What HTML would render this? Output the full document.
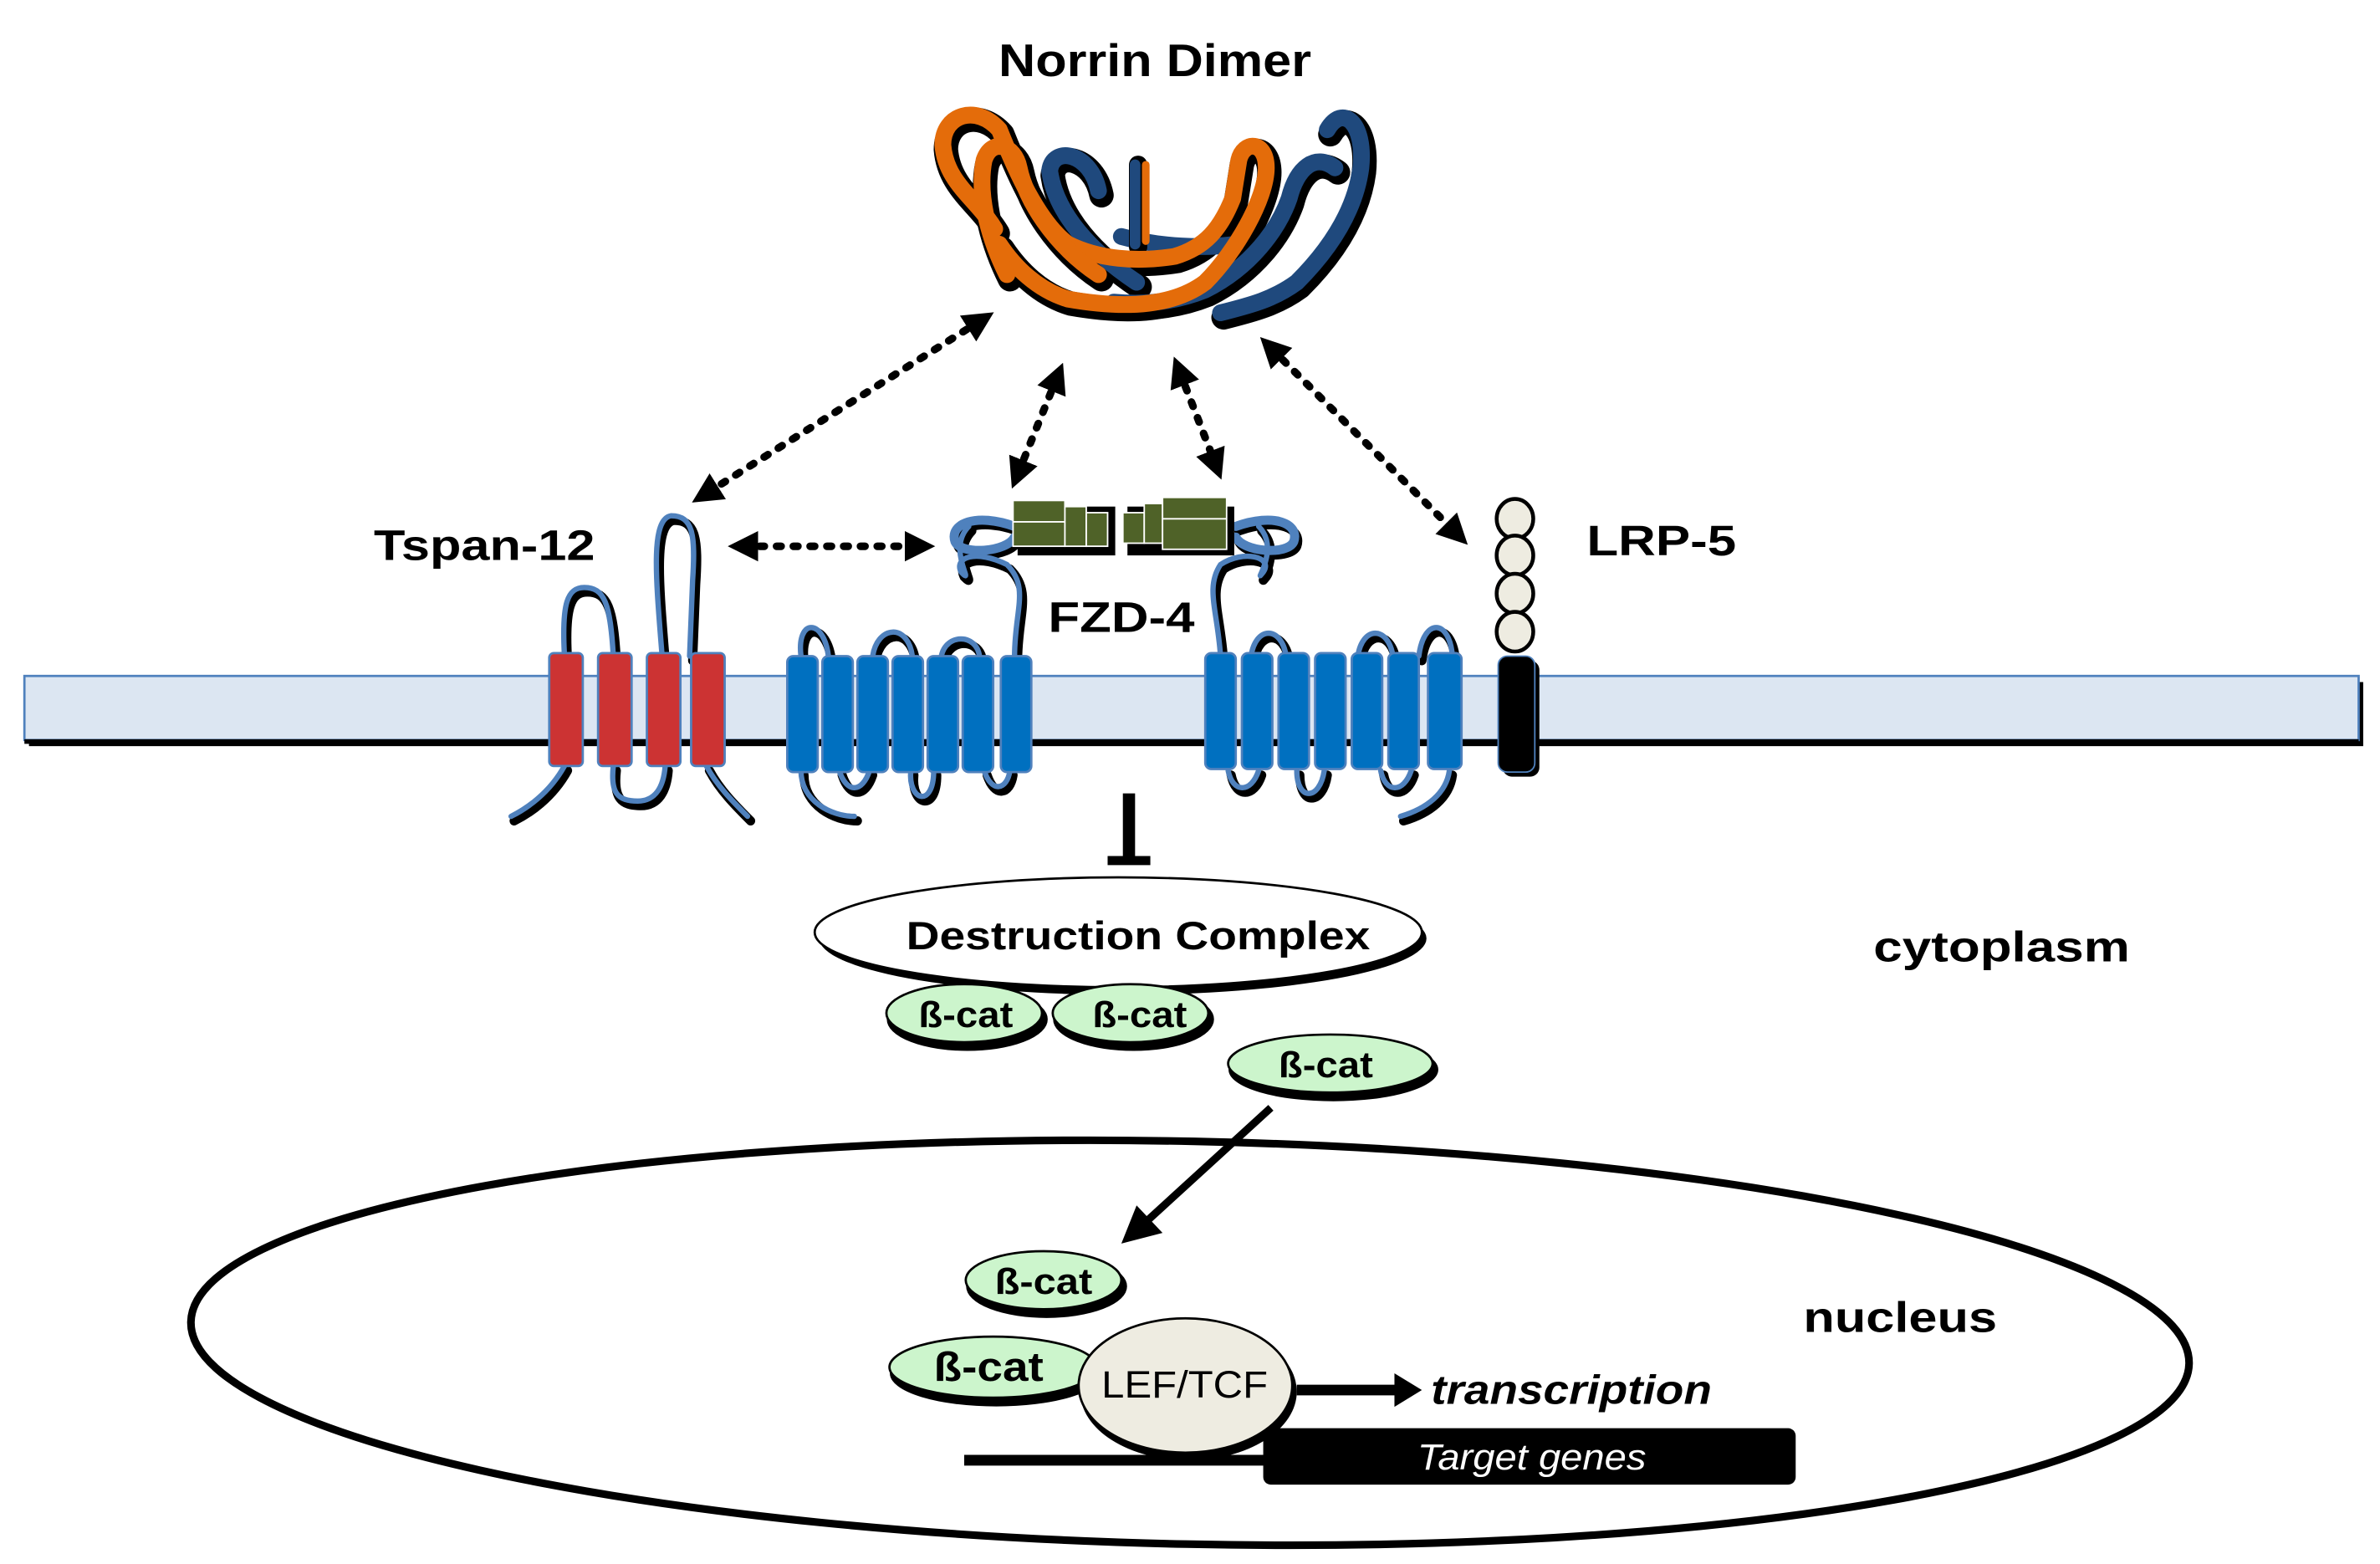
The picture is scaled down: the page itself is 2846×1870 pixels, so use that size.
<!DOCTYPE html>
<html><head><meta charset="utf-8"><style>
html,body{margin:0;padding:0;background:#fff;}
svg{display:block;}
text{font-family:"Liberation Sans Narrow","Liberation Sans",sans-serif;}
</style></head><body>
<svg width="2846" height="1870" viewBox="0 0 1560 1025" preserveAspectRatio="none" xmlns="http://www.w3.org/2000/svg">
<defs>
<marker id="ah" viewBox="0 0 10 10" refX="5" refY="5" markerWidth="4" markerHeight="4" orient="auto-start-reverse"><path d="M0,0 L10,5 L0,10 z" fill="#000"/></marker>
</defs>

<text x="757" y="50" font-size="30" font-weight="bold" text-anchor="middle" textLength="205" lengthAdjust="spacingAndGlyphs">Norrin Dimer</text>

<!-- Norrin dimer -->
<g fill="none" stroke-linecap="round" stroke-linejoin="round">
 <g stroke="#000" stroke-width="16" transform="translate(2,3)">
  <path d="M720,125 C715,100 690,95 688,112 C692,140 715,165 745,185"/>
  <path d="M870,85 C880,68 895,80 892,110 C888,140 870,165 850,185 C835,196 820,200 800,205"/>
  <path d="M875,110 C862,100 850,110 845,130 C838,150 820,175 790,190 C770,198 750,200 730,198"/>
  <path d="M652,150 C640,130 620,120 618,95 C618,75 640,68 655,85 C665,110 680,145 700,160 C720,170 745,172 770,168 C790,162 800,150 808,130 L812,105 C815,92 830,92 830,110 C830,130 810,165 790,185 C770,200 740,203 700,196 C680,190 665,175 655,160"/>
  <path d="M660,180 C650,160 640,130 645,105 C650,90 665,95 668,110 C672,130 690,160 720,180"/>
 </g>
 <g stroke="#1f497d" stroke-width="11">
  <path d="M720,125 C715,100 690,95 688,112 C692,140 715,165 745,185"/>
  <path d="M870,85 C880,68 895,80 892,110 C888,140 870,165 850,185 C835,196 820,200 800,205"/>
  <path d="M875,110 C862,100 850,110 845,130 C838,150 820,175 790,190 C770,198 750,200 730,198"/>
  <path d="M735,155 C760,162 790,163 810,160"/>
 </g>
 <path d="M746,108 L746,162" stroke="#000" stroke-width="12"/>
 <path d="M744,108 L744,160" stroke="#1f497d" stroke-width="7"/>
 <path d="M751,108 L751,158" stroke="#e46c0a" stroke-width="5"/>
 <g stroke="#e46c0a" stroke-width="11">
  <path d="M652,150 C640,130 620,120 618,95 C618,75 640,68 655,85 C665,110 680,145 700,160 C720,170 745,172 770,168 C790,162 800,150 808,130 L812,105 C815,92 830,92 830,110 C830,130 810,165 790,185 C770,200 740,203 700,196 C680,190 665,175 655,160"/>
  <path d="M660,180 C650,160 640,130 645,105 C650,90 665,95 668,110 C672,130 690,160 720,180"/>
 </g>
</g>

<!-- Dotted arrows -->
<g stroke="#000" stroke-width="5" stroke-dasharray="3,8" stroke-linecap="round" fill="none" marker-start="url(#ah)" marker-end="url(#ah)">
 <line x1="643" y1="210" x2="462" y2="324"/>
 <line x1="693" y1="247" x2="667" y2="311"/>
 <line x1="773" y1="243" x2="797" y2="305"/>
 <line x1="833" y1="228" x2="955" y2="350"/>
 <line x1="487" y1="358" x2="603" y2="358"/>
</g>

<!-- Membrane -->
<rect x="19" y="447" width="1530" height="42" fill="#000"/>
<rect x="16" y="443" width="1530" height="42" fill="#dce6f2" stroke="#4f81bd" stroke-width="1.5"/>
<line x1="16" y1="486" x2="1546" y2="486" stroke="#000" stroke-width="3"/>

<!-- Tspan-12 loops -->
<g fill="none" stroke-linecap="round">
 <g stroke="#000" stroke-width="6" transform="translate(2,3)">
  <path d="M370,430 C368,395 372,385 383,385 C396,385 400,395 402,430"/>
  <path d="M434,430 C430,380 426,340 440,338 C454,338 456,350 454,380 L452,430"/>
  <path d="M370,502 C360,520 345,530 335,535"/>
  <path d="M402,502 C400,520 405,525 418,525 C430,525 435,515 436,502"/>
  <path d="M463,502 C470,515 480,525 490,535"/>
 </g>
 <g stroke="#4f81bd" stroke-width="3.5">
  <path d="M370,430 C368,395 372,385 383,385 C396,385 400,395 402,430"/>
  <path d="M434,430 C430,380 426,340 440,338 C454,338 456,350 454,380 L452,430"/>
  <path d="M370,502 C360,520 345,530 335,535"/>
  <path d="M402,502 C400,520 405,525 418,525 C430,525 435,515 436,502"/>
  <path d="M463,502 C470,515 480,525 490,535"/>
 </g>
</g>
<g stroke="#4f81bd" stroke-width="1.5" fill="#cc3333">
 <rect x="360" y="428" width="22" height="74" rx="3"/>
 <rect x="392" y="428" width="22" height="74" rx="3"/>
 <rect x="424" y="428" width="22" height="74" rx="3"/>
 <rect x="453" y="428" width="22" height="74" rx="3"/>
</g>

<!-- FZD loops -->
<g fill="none" stroke-linecap="round">
 <g stroke="#000" stroke-width="6" transform="translate(2,3)">
  <path d="M525,430 C522,405 540,405 543,430"/>
  <path d="M572,430 C575,410 595,408 598,430"/>
  <path d="M617,430 C620,415 640,415 642,430"/>
  <path d="M525,505 C525,525 545,535 560,535"/>
  <path d="M550,505 C555,520 565,520 570,505"/>
  <path d="M597,505 C595,525 612,530 612,505"/>
  <path d="M645,505 C650,520 660,518 662,505"/>
  <path d="M665,430 C665,400 675,385 660,370 C640,360 625,365 630,375 C640,385 620,360 635,345"/>
  <path d="M800,430 C798,400 790,385 800,370 C815,360 835,365 828,375 C820,385 840,360 825,345"/>
  <path d="M820,430 C823,410 840,410 843,430"/>
  <path d="M890,430 C893,410 910,410 913,430"/>
  <path d="M930,430 C933,405 950,405 952,430"/>
  <path d="M805,505 C808,520 820,520 825,505"/>
  <path d="M850,505 C850,525 865,525 868,505"/>
  <path d="M905,505 C908,520 920,520 925,505"/>
  <path d="M950,505 C948,520 935,530 918,535"/>
  <path d="M665,345 C640,336 622,343 626,355 C630,364 660,362 665,352"/>
  <path d="M810,345 C835,336 852,343 848,355 C844,364 815,362 810,352"/>
 </g>
 <g stroke="#4f81bd" stroke-width="3.5">
  <path d="M525,430 C522,405 540,405 543,430"/>
  <path d="M572,430 C575,410 595,408 598,430"/>
  <path d="M617,430 C620,415 640,415 642,430"/>
  <path d="M525,505 C525,525 545,535 560,535"/>
  <path d="M550,505 C555,520 565,520 570,505"/>
  <path d="M597,505 C595,525 612,530 612,505"/>
  <path d="M645,505 C650,520 660,518 662,505"/>
  <path d="M665,430 C665,400 675,385 660,370 C640,360 625,365 630,375 C640,385 620,360 635,345"/>
  <path d="M800,430 C798,400 790,385 800,370 C815,360 835,365 828,375 C820,385 840,360 825,345"/>
  <path d="M820,430 C823,410 840,410 843,430"/>
  <path d="M890,430 C893,410 910,410 913,430"/>
  <path d="M930,430 C933,405 950,405 952,430"/>
  <path d="M805,505 C808,520 820,520 825,505"/>
  <path d="M850,505 C850,525 865,525 868,505"/>
  <path d="M905,505 C908,520 920,520 925,505"/>
  <path d="M950,505 C948,520 935,530 918,535"/>
 </g>
 <g stroke="#4f81bd" stroke-width="6">
  <path d="M665,345 C640,336 622,343 626,355 C630,364 660,362 665,352"/>
  <path d="M810,345 C835,336 852,343 848,355 C844,364 815,362 810,352"/>
 </g>
</g>
<g stroke="#4f81bd" stroke-width="1.5" fill="#0070c0">
 <rect x="516" y="430" width="20" height="76" rx="4"/>
 <rect x="539" y="430" width="20" height="76" rx="4"/>
 <rect x="562" y="430" width="20" height="76" rx="4"/>
 <rect x="585" y="430" width="20" height="76" rx="4"/>
 <rect x="608" y="430" width="20" height="76" rx="4"/>
 <rect x="631" y="430" width="20" height="76" rx="4"/>
 <rect x="656" y="430" width="20" height="76" rx="4"/>
 <rect x="790" y="428" width="20" height="76" rx="4"/>
 <rect x="814" y="428" width="20" height="76" rx="4"/>
 <rect x="838" y="428" width="20" height="76" rx="4"/>
 <rect x="862" y="428" width="20" height="76" rx="4"/>
 <rect x="886" y="428" width="20" height="76" rx="4"/>
 <rect x="910" y="428" width="20" height="76" rx="4"/>
 <rect x="936" y="428" width="22" height="76" rx="4"/>
</g>
<!-- green CRD blocks -->
<g fill="#000" transform="translate(3,4)">
 <rect x="664" y="328" width="64" height="32"/>
 <rect x="736" y="328" width="70" height="32"/>
</g>
<g fill="#4f6228" stroke="#fff" stroke-width="1">
 <rect x="664" y="328" width="34" height="30"/>
 <rect x="698" y="332" width="14" height="26"/>
 <rect x="712" y="336" width="14" height="22"/>
 <rect x="736" y="336" width="14" height="20"/>
 <rect x="750" y="330" width="12" height="26"/>
 <rect x="762" y="326" width="42" height="34"/>
 <line x1="664" y1="342" x2="698" y2="342"/>
 <line x1="762" y1="340" x2="804" y2="340"/>
</g>

<!-- LRP5 -->
<rect x="985" y="433" width="24" height="76" rx="6" fill="#000"/>
<rect x="982" y="430" width="24" height="76" rx="6" fill="#000" stroke="#4f81bd" stroke-width="1"/>
<g fill="#eeece1" stroke="#000" stroke-width="2.5">
 <ellipse cx="993" cy="340" rx="12" ry="13"/>
 <ellipse cx="993" cy="364" rx="12" ry="13"/>
 <ellipse cx="993" cy="389" rx="12" ry="13"/>
 <ellipse cx="993" cy="414" rx="12" ry="13"/>
</g>

<!-- Labels -->
<g font-weight="bold" font-size="28">
 <text x="245" y="367" textLength="145" lengthAdjust="spacingAndGlyphs">Tspan-12</text>
 <text x="1040" y="364" textLength="98" lengthAdjust="spacingAndGlyphs">LRP-5</text>
 <text x="687" y="414" textLength="96" lengthAdjust="spacingAndGlyphs">FZD-4</text>
 <text x="1228" y="630" textLength="168" lengthAdjust="spacingAndGlyphs">cytoplasm</text>
 <text x="1182" y="873" textLength="127" lengthAdjust="spacingAndGlyphs">nucleus</text>
</g>

<!-- inhibition -->
<line x1="740" y1="520" x2="740" y2="562" stroke="#000" stroke-width="8"/>
<line x1="726" y1="564" x2="754" y2="564" stroke="#000" stroke-width="6"/>

<!-- Destruction complex -->
<ellipse cx="736" cy="615" rx="199" ry="37" fill="#000"/>
<ellipse cx="733" cy="611" rx="199" ry="36" fill="#fff" stroke="#000" stroke-width="1.5"/>
<text x="594" y="622" font-size="26" font-weight="bold" textLength="304" lengthAdjust="spacingAndGlyphs">Destruction Complex</text>

<!-- beta-cat -->
<g stroke="#000" stroke-width="1.5">
 <ellipse cx="634" cy="668" rx="52" ry="20" fill="#000"/><ellipse cx="632" cy="664" rx="51" ry="19" fill="#ccf5cc"/>
 <ellipse cx="743" cy="668" rx="52" ry="20" fill="#000"/><ellipse cx="741" cy="664" rx="51" ry="19" fill="#ccf5cc"/>
 <ellipse cx="874" cy="701" rx="68" ry="20" fill="#000"/><ellipse cx="872" cy="697" rx="67" ry="19" fill="#ccf5cc"/>
 <ellipse cx="686" cy="843" rx="52" ry="20" fill="#000"/><ellipse cx="684" cy="839" rx="51" ry="19" fill="#ccf5cc"/>
 <ellipse cx="653" cy="900" rx="69" ry="21" fill="#000"/><ellipse cx="651" cy="896" rx="68" ry="20" fill="#ccf5cc"/>
</g>
<g font-size="24" font-weight="bold">
 <text x="602" y="673" textLength="62" lengthAdjust="spacingAndGlyphs">ß-cat</text>
 <text x="716" y="673" textLength="62" lengthAdjust="spacingAndGlyphs">ß-cat</text>
 <text x="838" y="706" textLength="62" lengthAdjust="spacingAndGlyphs">ß-cat</text>
 <text x="652" y="848" textLength="64" lengthAdjust="spacingAndGlyphs">ß-cat</text>
 <text x="612" y="905" font-size="27" textLength="72" lengthAdjust="spacingAndGlyphs">ß-cat</text>
</g>

<!-- Nucleus -->
<ellipse cx="780" cy="880" rx="655" ry="132" fill="none" stroke="#000" stroke-width="5" transform="rotate(1.2 780 880)"/>

<line x1="833" y1="726" x2="752" y2="800" stroke="#000" stroke-width="5"/>
<path d="M735,815 L745,790 L762,808 z" fill="#000"/>

<line x1="632" y1="957" x2="840" y2="957" stroke="#000" stroke-width="7"/>
<rect x="828" y="936" width="349" height="37" rx="5" fill="#000"/>
<text x="1004" y="963" font-size="24" font-style="italic" fill="#fff" text-anchor="middle" textLength="150" lengthAdjust="spacingAndGlyphs">Target genes</text>

<ellipse cx="779" cy="912" rx="71" ry="45" fill="#000"/>
<ellipse cx="777" cy="908" rx="70" ry="44" fill="#eeece1" stroke="#000" stroke-width="1.5"/>
<text x="722" y="916" font-size="25" textLength="109" lengthAdjust="spacingAndGlyphs">LEF/TCF</text>

<line x1="850" y1="911" x2="918" y2="911" stroke="#000" stroke-width="7"/>
<path d="M914,900 L932,911 L914,922 z" fill="#000"/>
<text x="938" y="920" font-size="27" font-weight="bold" font-style="italic" textLength="184" lengthAdjust="spacingAndGlyphs">transcription</text>
</svg>
</body></html>
